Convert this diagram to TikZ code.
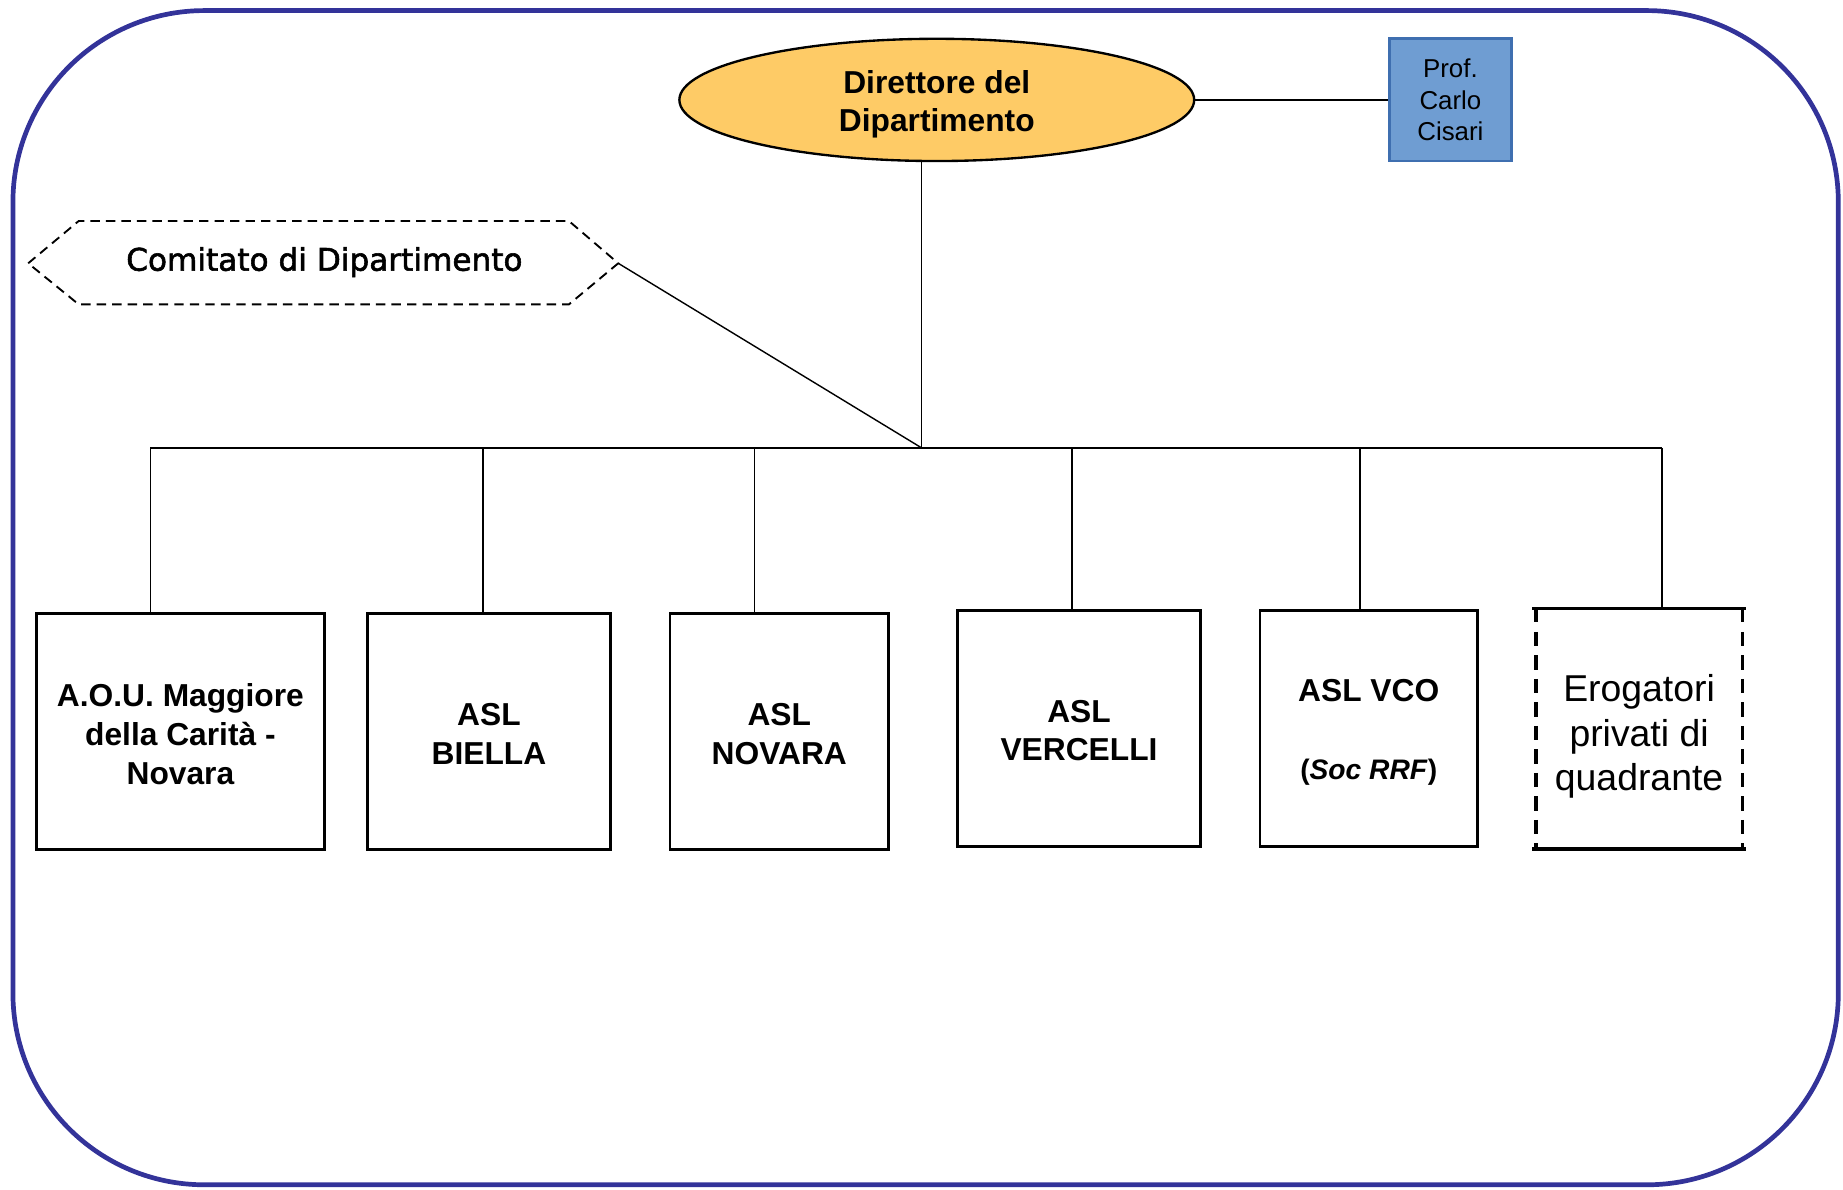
\documentclass[tikz,border=0pt]{standalone}
\usepackage{fontspec}
\setmainfont{Liberation Sans}
\newfontfamily\dejavu[FakeBold=1.8]{DejaVu Sans}
\usetikzlibrary{shapes.geometric}
\definecolor{frameblue}{HTML}{333399}
\definecolor{dirfill}{HTML}{FECB66}
\definecolor{proffill}{HTML}{6F9DD2}
\definecolor{profedge}{HTML}{3F6FB0}
\tikzset{
  conn/.style={draw=black, line width=0.6pt},
  unitframe/.style={draw=black, line width=1.25pt, inner sep=0pt},
  unittext/.style={align=center, inner sep=0pt,
     font=\bfseries\fontsize{13.5}{16.5}\selectfont},
  dashedside/.style={line width=1.5pt, dash pattern=on 6pt off 4pt},
}
\begin{document}
\begin{tikzpicture}[x=0.5pt,y=-0.5pt]
\useasboundingbox (0,0) rectangle (1568,1012);
% outer frame
\draw[frameblue, line width=2pt, rounded corners=81.5pt] (11,9) rectangle (1564,1008);

% director
\node[ellipse, draw=black, line width=1pt, fill=dirfill, minimum width=219pt, minimum height=52pt, inner sep=0pt] (dir) at (797,85) {};
\node[align=center, inner sep=0pt, font=\bfseries\fontsize{13.5}{16.25}\selectfont] (dirt) at ([yshift=-1.75pt]dir.center) {Direttore del\\Dipartimento};
\node[draw=profedge, line width=1.25pt, fill=proffill, minimum width=52pt, minimum height=52pt, inner sep=0pt, align=center,
  font=\fontsize{11}{13.5}\selectfont] (prof) at (1234,85) {Prof.\\Carlo\\Cisari};
\draw[conn] (dir.east) -- (prof.west);

% comitato
\node[font=\dejavu\fontsize{13.25}{16}\selectfont, inner sep=0pt] (com) at (276,223) {Comitato di Dipartimento};
\coordinate (comL) at (24,224);
\coordinate (comR) at (526,224);
\draw[line width=0.8pt, dash pattern=on 4pt off 2.6pt] (comL) -- (67,188) -- (484,188) -- (comR) -- (484,259) -- (67,259) -- cycle;

% bus
\coordinate (bus) at (784,381);
\coordinate (t1) at (128,381);
\coordinate (t2) at (411,381);
\coordinate (t3) at (642,381);
\coordinate (t4) at (912,381);
\coordinate (t5) at (1157,381);
\coordinate (t6) at (1414,381);
\draw[conn] (dir.south -| bus) -- (bus);
\draw[conn] (comR) -- (bus);
\draw[conn] (t1) -- (t6);

% units
\node[unitframe, minimum width=122.5pt, minimum height=100.5pt] (b1) at (153.5,622.5) {};
\node[unittext] (b1t) at ([yshift=-1pt]b1.center) {A.O.U. Maggiore\\della Carità -\\Novara};
\node[unitframe, minimum width=103pt, minimum height=100.5pt] (b2) at (416,622.5) {};
\node[unittext] (b2t) at ([yshift=-1pt]b2.center) {ASL\\BIELLA};
\node[unitframe, minimum width=93pt, minimum height=100.5pt] (b3) at (663,622.5) {};
\node[unittext] (b3t) at ([yshift=-1pt]b3.center) {ASL\\NOVARA};
\node[unitframe, minimum width=103pt, minimum height=100.5pt] (b4) at (918,619.5) {};
\node[unittext] (b4t) at ([yshift=-1pt]b4.center) {ASL\\VERCELLI};
\node[unitframe, minimum width=92.5pt, minimum height=100.5pt] (b5) at (1164.5,619.5) {};
\node[unittext] (b5t) at ([yshift=-1.75pt]b5.center) {ASL VCO\\[16.5pt]{\fontsize{12}{14}\selectfont(\textit{Soc RRF})}};
\node[inner sep=0pt, minimum width=90.5pt, minimum height=102pt] (b6) at (1394.5,620) {};
\node[align=center, inner sep=0pt, font=\fontsize{15.9}{19}\selectfont] (b6t) at ([yshift=-3.25pt]b6.center) {Erogatori\\privati di\\quadrante};
\draw[line width=1.5pt] (b6.north west) -- (b6.north east);
\draw[line width=1.5pt] (b6.south west) -- (b6.south east);
\draw[dashedside] ([xshift=1.5pt]b6.north west) -- ([xshift=1.5pt]b6.south west);
\draw[dashedside] ([xshift=-1.5pt]b6.north east) -- ([xshift=-1.5pt]b6.south east);

\draw[conn] (t1) -- (t1 |- b1.north);
\draw[conn] (t2) -- (t2 |- b2.north);
\draw[conn] (t3) -- (t3 |- b3.north);
\draw[conn] (t4) -- (t4 |- b4.north);
\draw[conn] (t5) -- (t5 |- b5.north);
\draw[conn] (t6) -- (t6 |- b6.north);
\end{tikzpicture}
\end{document}
